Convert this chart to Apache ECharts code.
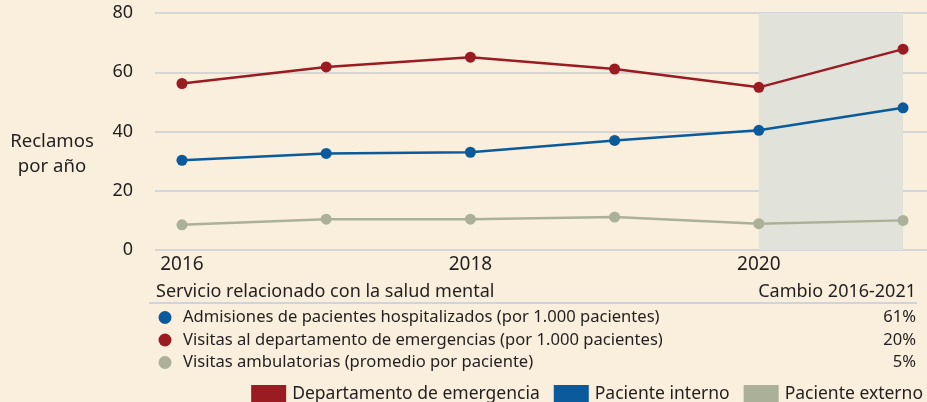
<!DOCTYPE html>
<html>
<head>
<meta charset="utf-8">
<script src="https://cdn.jsdelivr.net/npm/echarts@6/dist/echarts.min.js"></script>
<style>
  html, body { margin: 0; padding: 0; background: #f9efdc; }
  #chart { width: 927px; height: 402px; }
</style>
</head>
<body>
<div id="chart"></div>
<script>
// data
const years = [2016, 2017, 2018, 2019, 2020, 2021]
const emergencias = [56.2, 61.8, 65.1, 61.1, 54.9, 67.8]
const internos = [30.3, 32.6, 33.0, 37.0, 40.4, 48.0]
const externos = [8.5, 10.4, 10.4, 11.1, 8.9, 10.0]
const yTicks = [0, 20, 40, 60, 80]
const xLabels = [2016, 2018, 2020]
const shadeRange = [2020, 2021]

const seriesNames = ['Departamento de emergencia', 'Paciente interno', 'Paciente externo']
const colors = ['#9b1b22', '#0b5a9b', '#abb198']

// table under the chart
const tableHeader = ['Servicio relacionado con la salud mental', 'Cambio 2016-2021']
const tableRows = [
	'Admisiones de pacientes hospitalizados (por 1.000 pacientes)',
	'Visitas al departamento de emergencias (por 1.000 pacientes)',
	'Visitas ambulatorias (promedio por paciente)',
]
const tableChanges = ['61%', '20%', '5%']
const tableColors = [colors[1], colors[0], colors[2]]

const FONT = 'Noto Sans'
const TEXT = '#231f20'

const chart = echarts.init(document.getElementById('chart'), null, {renderer: 'canvas'})

const toPairs = vals => years.map((y, i) => [y, vals[i]])

const makeSeries = (name, vals, color) => ({
	name: name,
	type: 'line',
	data: toPairs(vals),
	symbol: 'circle',
	symbolSize: 11,
	color: color,
	lineStyle: { width: 2.5, color: color },
	itemStyle: { color: color },
	emphasis: { disabled: true },
	z: 3,
})

const txt = (x, y, text, size, align) => ({
	type: 'text', x: x, y: y,
	style: { text: text, font: size + 'px ' + FONT, fill: TEXT, align: align || 'left', verticalAlign: 'middle' }
})

// table graphics
const graphics = []
graphics.push(txt(156, 292, tableHeader[0], 18))
graphics.push(txt(916, 292, tableHeader[1], 18, 'right'))
graphics.push({
	type: 'line',
	shape: { x1: 149, y1: 303, x2: 917, y2: 303 },
	style: { stroke: '#c6cad3', lineWidth: 1.5 }
})
tableRows.forEach((row, i) => {
	const y = 317.5 + i * 22.5
	graphics.push({
		type: 'circle',
		shape: { cx: 165, cy: y, r: 6.5 },
		style: { fill: tableColors[i] }
	})
	graphics.push(txt(183, y, row, 16.6))
	graphics.push(txt(916, y, tableChanges[i], 16.6, 'right'))
})
graphics.push(txt(52, 142, 'Reclamos', 18.6, 'center'))
graphics.push(txt(52, 166.5, 'por año', 18.6, 'center'))

const series = [
	makeSeries(seriesNames[0], emergencias, colors[0]),
	makeSeries(seriesNames[1], internos, colors[1]),
	makeSeries(seriesNames[2], externos, colors[2]),
]
series[2].markArea = {
	silent: true,
	itemStyle: { color: '#e1e2d9' },
	data: [[{ xAxis: shadeRange[0] }, { xAxis: shadeRange[1] }]],
}
series[2].z = 2

const option = {
	backgroundColor: '#f9efdc',
	animation: false,
	grid: { left: 155, right: 0, top: 13, bottom: 152 },
	xAxis: {
		type: 'value',
		min: 2015.813,
		max: 2021.166,
		axisLine: { show: false },
		axisTick: { show: false },
		splitLine: { show: false },
		axisLabel: {
			customValues: xLabels,
			formatter: v => String(v),
			fontSize: 19, color: TEXT, fontFamily: FONT, margin: 5,
		},
	},
	yAxis: {
		type: 'value',
		min: yTicks[0],
		max: yTicks[yTicks.length - 1],
		interval: 20,
		axisLine: { show: false },
		axisTick: { show: false },
		axisLabel: { fontSize: 18, color: TEXT, fontFamily: FONT, margin: 22 },
		splitLine: { lineStyle: { color: '#c8ccd5', width: 1.5 } },
	},
	legend: {
		data: seriesNames,
		right: -1,
		bottom: -7,
		icon: 'rect',
		itemWidth: 35,
		itemHeight: 19,
		itemGap: 14,
		textStyle: { fontSize: 17.5, color: TEXT, fontFamily: FONT, padding: [0, 0, 0, 1] },
		selectedMode: false,
	},
	graphic: graphics,
	series: series,
}

chart.setOption(option)
</script>
</body>
</html>
